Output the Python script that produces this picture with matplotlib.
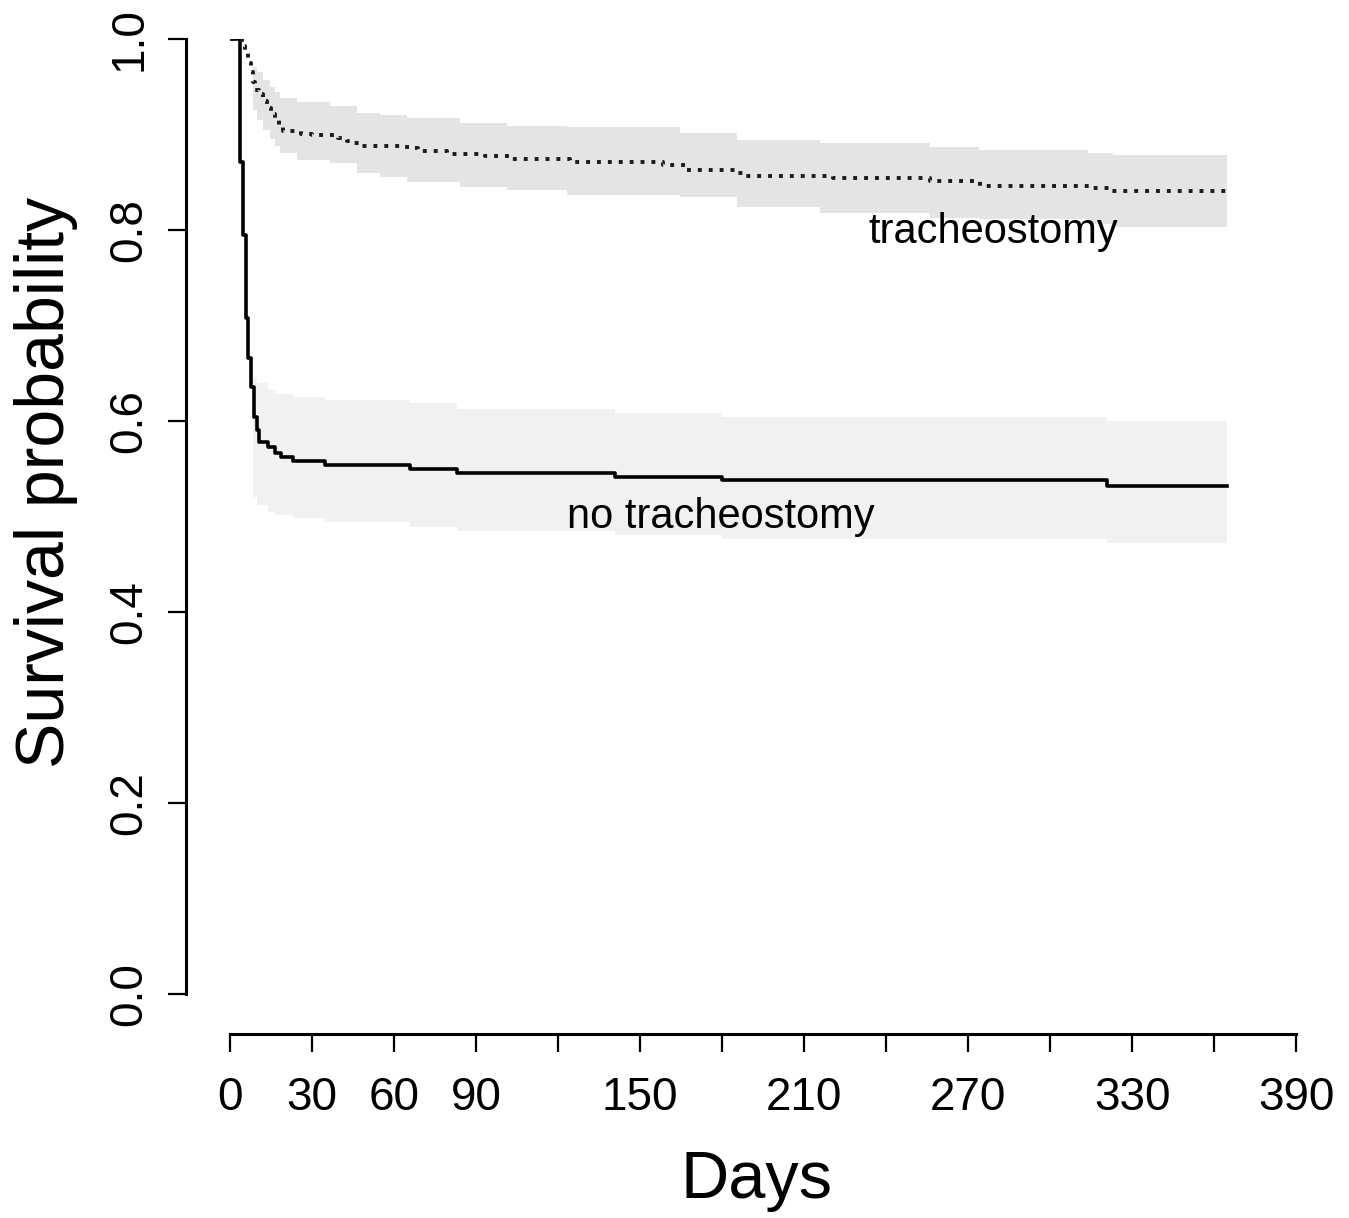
import matplotlib
matplotlib.use("Agg")
import matplotlib.pyplot as plt
from matplotlib import font_manager

# ---------------- data ----------------
# no tracheostomy: Kaplan-Meier step curve (days, survival)
notrach_t = [0, 3.7, 4.9, 5.7, 6.7, 7.7, 8.9, 9.8, 10.7, 14.0, 16.5, 18.8, 23.2,
             34.8, 65.9, 83.1, 140.9, 180.0, 320.9, 364.8]
notrach_s = [1.0, 0.871, 0.795, 0.708, 0.666, 0.636, 0.604, 0.591, 0.578, 0.573,
             0.566, 0.562, 0.558, 0.554, 0.550, 0.5455, 0.541, 0.538, 0.532, 0.532]

# no tracheostomy: confidence band
notrach_band_t = [8.5, 10.0, 13.9, 16.5, 23.0, 34.8, 65.9, 83.0, 140.9, 180.0, 320.9, 364.8]
notrach_band_hi = [0.646, 0.640, 0.632, 0.628, 0.625, 0.622, 0.619, 0.613, 0.608, 0.604, 0.600, 0.600]
notrach_band_lo = [0.520, 0.512, 0.505, 0.502, 0.498, 0.494, 0.489, 0.485, 0.481, 0.476, 0.472, 0.472]

# tracheostomy: Kaplan-Meier step curve
trach_t = [0, 4.5, 5.5, 6.5, 7.5, 8.5, 9.0, 10.5, 12.0, 13.5, 15.0, 16.5, 18.0, 19.5,
           26.0, 30.0, 39.5, 42.8, 45.0, 48.3, 62.2, 65.9, 68.8, 79.4, 93.3, 102.5,
           124.4, 158.4, 166.5, 184.8, 188.4, 220.6, 256.1, 274.4, 314.7, 322.0, 364.8]
trach_s = [1.0, 0.993, 0.985, 0.975, 0.965, 0.955, 0.947, 0.942, 0.935, 0.928, 0.921,
           0.916, 0.910, 0.904, 0.901, 0.899, 0.896, 0.893, 0.891, 0.888, 0.887, 0.886,
           0.883, 0.880, 0.877, 0.874, 0.871, 0.868, 0.863, 0.860, 0.857, 0.854, 0.851,
           0.846, 0.844, 0.841, 0.841]

# tracheostomy: confidence band
trach_band_t = [8.4, 10.0, 12.1, 14.6, 16.5, 18.3, 24.5, 36.6, 46.5, 54.9, 64.8, 84.2,
                101.4, 123.3, 164.7, 185.5, 216.0, 256.0, 274.0, 314.0, 323.0, 364.8]
trach_band_hi = [0.971, 0.965, 0.957, 0.950, 0.945, 0.938, 0.934, 0.930, 0.922, 0.920,
                 0.917, 0.912, 0.909, 0.908, 0.902, 0.894, 0.891, 0.887, 0.884, 0.881,
                 0.879, 0.879]
trach_band_lo = [0.926, 0.915, 0.905, 0.895, 0.888, 0.881, 0.873, 0.870, 0.860, 0.855,
                 0.850, 0.845, 0.842, 0.837, 0.835, 0.824, 0.818, 0.813, 0.811, 0.806,
                 0.803, 0.803]

x_ticks = list(range(0, 391, 30))
x_tick_labels = ["0", "30", "60", "90", "", "150", "", "210", "", "270", "", "330", "", "390"]
y_ticks = [0.0, 0.2, 0.4, 0.6, 0.8, 1.0]
y_tick_labels = ["0.0", "0.2", "0.4", "0.6", "0.8", "1.0"]

# ---------------- fonts ----------------
avail = {f.name for f in font_manager.fontManager.ttflist}
narrow = "Liberation Sans Narrow" if "Liberation Sans Narrow" in avail else "Liberation Sans"
plt.rcParams["font.family"] = ["Liberation Sans", "DejaVu Sans"]

W, H = 1349, 1218
fig = plt.figure(figsize=(W / 100, H / 100), dpi=100)
x0, x1 = 230, 1296
y0, y1 = 39, 994
ax = fig.add_axes([x0 / W, 1 - y1 / H, (x1 - x0) / W, (y1 - y0) / H])
ax.set_xlim(0, 390)
ax.set_ylim(0, 1)

# bands
ax.fill_between(trach_band_t, trach_band_lo, trach_band_hi, step="post",
                color="#e4e4e4", linewidth=0, zorder=1)
ax.fill_between(notrach_band_t, notrach_band_lo, notrach_band_hi, step="post",
                color="#f1f1f1", linewidth=0, zorder=1)

# curves
ax.step(notrach_t, notrach_s, where="post", color="black", lw=2.6, zorder=3)
ax.step(trach_t, trach_s, where="post", color="#1a1a1a", lw=2.8,
        linestyle=(0, (1, 1.8)), dash_capstyle="butt", zorder=3)

# labels on curves
ax.text(279.2, 0.786, "tracheostomy", ha="center", va="baseline", fontsize=30)
ax.text(179.7, 0.488, "no tracheostomy", ha="center", va="baseline", fontsize=30)

# R-style detached axes
for s in ["top", "right"]:
    ax.spines[s].set_visible(False)
ax.spines["left"].set_position(("outward", 31.7))
ax.spines["bottom"].set_position(("outward", 28.8))
ax.spines["left"].set_bounds(0, 1)
ax.spines["bottom"].set_bounds(0, 390)
ax.spines["left"].set_linewidth(2.2)
ax.spines["bottom"].set_linewidth(2.2)

ax.set_xticks(x_ticks)
ax.set_xticklabels(x_tick_labels, fontsize=33, family=narrow)
ax.set_yticks(y_ticks)
ax.set_yticklabels(y_tick_labels, fontsize=33, family=narrow, rotation=90, va="center")
ax.tick_params(axis="both", length=13, width=1.6, color="black")
ax.tick_params(axis="x", pad=17)
ax.tick_params(axis="y", pad=12)

fig.text(46 / W, 1 - 482 / H, "Survival probability", rotation=90,
         ha="center", va="center", fontsize=49)
fig.text(756 / W, 1 - 1198 / H, "Days", ha="center", va="baseline", fontsize=48)

fig.savefig("out.png", dpi=100, facecolor="white")
